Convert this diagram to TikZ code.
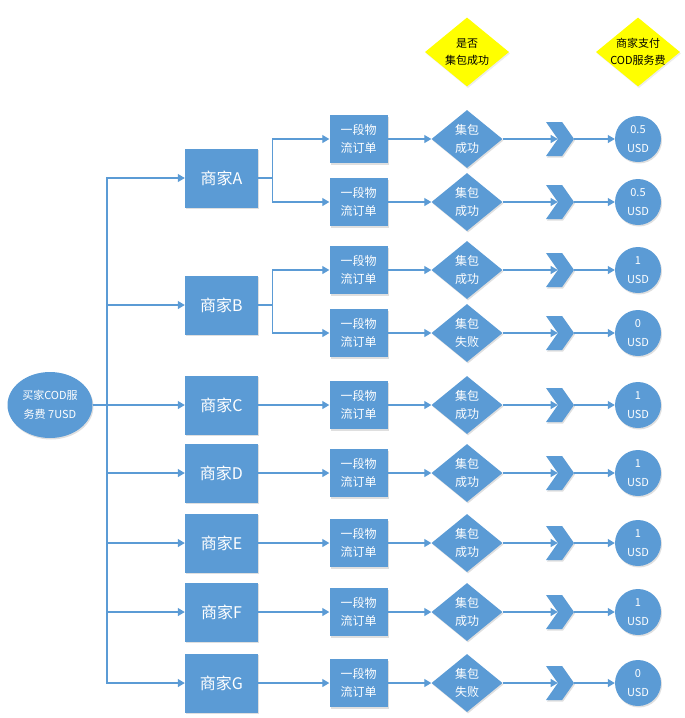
\documentclass[tikz,border=0pt]{standalone}
\usepackage{fontspec}
\setmainfont{Noto Sans CJK SC}
\usetikzlibrary{arrows.meta,shapes.geometric,shapes.symbols,shadows}
\definecolor{ship}{HTML}{5B9BD5}
\definecolor{hdr}{HTML}{FFFF00}

\begin{document}
\begin{tikzpicture}[x=1pt,y=-1pt,
 blob/.style={fill=ship,text=white,draw=none,align=center,
   drop shadow={shadow xshift=1pt,shadow yshift=-1.5pt,opacity=.25}},
 shop/.style={blob,minimum width=73pt,minimum height=59pt,font=\fontsize{16}{18}\selectfont},
 order/.style={blob,minimum width=58pt,minimum height=48pt,inner sep=0pt,font=\fontsize{12}{18}\selectfont},
 check/.style={blob,diamond,aspect=1.2,minimum width=71pt,minimum height=58pt,inner sep=0pt,font=\fontsize{12}{18}\selectfont},
 flag/.style={blob,signal,signal to=east,signal from=west,signal pointer angle=110,minimum width=28pt,minimum height=34pt,inner sep=0pt},
 fee/.style={blob,circle,minimum size=46pt,inner sep=0pt,font=\fontsize{11}{19}\selectfont},
 buyer/.style={blob,ellipse,minimum width=85pt,minimum height=66pt,inner sep=0pt,font=\fontsize{11}{19}\selectfont},
 head/.style={diamond,fill=hdr,align=center,aspect=1.22,minimum width=84pt,minimum height=69pt,inner sep=-4pt,font=\fontsize{11}{17}\selectfont,
   drop shadow={shadow xshift=1pt,shadow yshift=-1.5pt,opacity=.15}},
 link/.style={draw=ship,line width=1.2pt},
 arr/.style={link,-{Triangle[length=7pt,width=8pt]}}]
\useasboundingbox (0,0) rectangle (685,718);

% column heads
\node[head] (h1) at (467,52) {是否\\集包成功};
\node[head] (h2) at (638,52) {商家支付\\COD服务费};

% buyer and merchants
\node[buyer] (buy) at (50,405) {买家COD服\\务费 7USD};
\coordinate (trunk) at (107,405);
\node[shop] (mA) at (221.5,178) {商家A};
\node[shop] (mB) at (221.5,305) {商家B};
\node[shop] (mC) at (221.5,405) {商家C};
\node[shop] (mD) at (221.5,473) {商家D};
\node[shop] (mE) at (221.5,543) {商家E};
\node[shop] (mF) at (221.5,612) {商家F};
\node[shop] (mG) at (221.5,683) {商家G};

% one chain per logistics order
\foreach \n/\y/\r/\v in {A1/139/成功/0.5, A2/202/成功/0.5, B1/270/成功/1, B2/333/失败/0,
  C/405/成功/1, D/473/成功/1, E/543/成功/1, F/612/成功/1, G/683/失败/0} {
  \node[order] (o\n) at (358.5,\y) {一段物\\流订单};
  \node[check] (c\n) at (467,\y) {集包\\\r};
  \node[flag] (f\n) at (560,\y) {};
  \node[fee] (p\n) at (638,\y) {\v\\USD};
  \draw[arr] (o\n) -- (c\n);
  \draw[arr] (c\n) -- (f\n);
  \draw[arr] (f\n) -- (p\n);
}

\foreach \m in {A,B,C,D,E,F,G}
  \draw[arr] (buy) -- (trunk) |- (m\m);
\draw[arr] (mA.east) -- ++(14,0) |- (oA1);
\draw[arr] (mA.east) -- ++(14,0) |- (oA2);
\draw[arr] (mB.east) -- ++(14,0) |- (oB1);
\draw[arr] (mB.east) -- ++(14,0) |- (oB2);
\foreach \m in {C,D,E,F,G}
  \draw[arr] (m\m) -- (o\m);
\end{tikzpicture}
\end{document}
